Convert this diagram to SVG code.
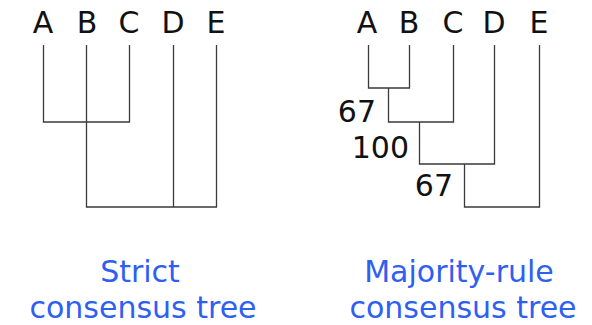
<svg xmlns="http://www.w3.org/2000/svg" width="592" height="325" viewBox="0 0 592 325">
<style>
.lbl{font-family:"DejaVu Sans","Verdana",sans-serif;font-size:30px;fill:#111;text-anchor:middle}
.sup{font-family:"DejaVu Sans","Verdana",sans-serif;font-size:30px;fill:#111;text-anchor:end}
.cap{font-family:"DejaVu Sans","Verdana",sans-serif;font-size:30px;fill:#2f5ff2;text-anchor:middle}
.ln{fill:none;stroke:#3a3a3a;stroke-width:1.3}
</style>
<rect width="592" height="325" fill="#fff"/>
<g id="strict-tree">
  <g id="strict-leaves">
    <text class="lbl" x="43" y="33">A</text>
    <text class="lbl" x="87" y="33">B</text>
    <text class="lbl" x="129" y="33">C</text>
    <text class="lbl" x="173" y="33">D</text>
    <text class="lbl" x="216" y="33">E</text>
  </g>
  <g id="strict-connectors" class="ln">
    <path d="M43.5,45 V122 H129.5 V45"/>
    <path d="M86.5,45 V207 H216.5 V45"/>
    <path d="M173.5,45 V207"/>
  </g>
  <g id="strict-caption">
    <text class="cap" x="140" y="282">Strict</text>
    <text class="cap" x="143" y="318">consensus tree</text>
  </g>
</g>
<g id="majority-tree">
  <g id="majority-leaves">
    <text class="lbl" x="367" y="33">A</text>
    <text class="lbl" x="409" y="33">B</text>
    <text class="lbl" x="453" y="33">C</text>
    <text class="lbl" x="494" y="33">D</text>
    <text class="lbl" x="539" y="33">E</text>
  </g>
  <g id="majority-connectors" class="ln">
    <path d="M368.5,45 V88 H409.5 V45"/>
    <path d="M388.5,88 V122 H453.5 V45"/>
    <path d="M419.5,122 V164 H494.5 V45"/>
    <path d="M464.5,164 V207 H539.5 V45"/>
  </g>
  <g id="majority-support">
    <text class="sup" x="376" y="122">67</text>
    <text class="sup" x="409" y="158">100</text>
    <text class="sup" x="453" y="196">67</text>
  </g>
  <g id="majority-caption">
    <text class="cap" x="459" y="282">Majority-rule</text>
    <text class="cap" x="463" y="318">consensus tree</text>
  </g>
</g>
</svg>
